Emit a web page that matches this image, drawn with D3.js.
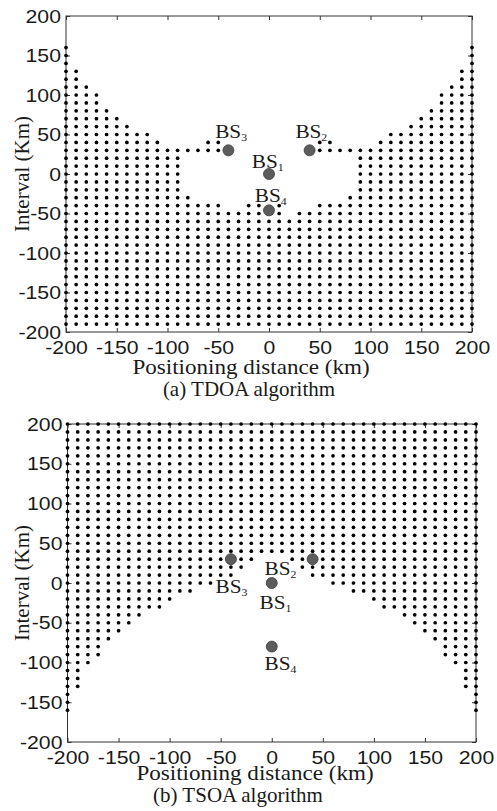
<!DOCTYPE html>
<html>
<head>
<meta charset="utf-8">
<script src="https://cdn.jsdelivr.net/npm/d3@7"></script>
<style>
	body { margin: 0; background: #fff; }
	svg { display: block; font-family: 'Liberation Serif', 'Times New Roman', serif; }
</style>
</head>
<body>
<svg id="chart" width="497" height="811"></svg>
<script>
// grid of candidate positions (km)
const gridX = [-200, -190, -180, -170, -160, -150, -140, -130, -120, -110, -100, -90, -80, -70, -60, -50, -40, -30, -20, -10, 0,
	10, 20, 30, 40, 50, 60, 70, 80, 90, 100, 110, 120, 130, 140, 150, 160, 170, 180, 190, 200]
const gridY = [-200, -190, -180, -170, -160, -150, -140, -130, -120, -110, -100, -90, -80, -70, -60, -50, -40, -30, -20, -10, 0,
	10, 20, 30, 40, 50, 60, 70, 80, 90, 100, 110, 120, 130, 140, 150, 160, 170, 180, 190, 200]
const ticks = [-200, -150, -100, -50, 0, 50, 100, 150, 200]

// (a) TDOA: highest dotted row of each column, lowest row, and empty pockets
const tdoaTop = [160, 130, 110, 100, 80, 70, 60, 50, 50, 40, 30, 30, 30, 30, 40, 40, 30, 30, 30, 30, 30,
	30, 30, 30, 30, 40, 40, 30, 30, 30, 30, 40, 50, 50, 60, 70, 80, 100, 110, 130, 160]
const tdoaBottom = -190
const tdoaHoleRow = [30, 20, 10, 0, -10, -20, -30, -40, -40, -40, -50]
const tdoaHoleFrom = [-40, -80, -80, -80, -80, -80, -70, -40, 0, 20, 20]
const tdoaHoleTo = [40, 80, 80, 80, 80, 80, 70, -30, 0, 40, 20]

// (b) TSOA: lowest dotted row of each column
const tsoaTop = 200
const tsoaBottom = [-160, -130, -100, -90, -70, -60, -50, -40, -30, -30, -20, -10, -10, 0, 0, 10, 10, 20, 30, 40, 40,
	40, 30, 20, 10, 10, 0, 0, -10, -10, -20, -30, -30, -40, -50, -60, -70, -90, -100, -130, -160]

// base stations BS1..BS4
const bsNames = ['1', '2', '3', '4']
const tdoaBsX = [0, 40, -40, 0]
const tdoaBsY = [0, 30, 30, -46]
const tdoaLabelX = [-17, 26, -53, -14]
const tdoaLabelY = [7, 45, 46, -35]
const tsoaBsX = [0, 40, -40, 0]
const tsoaBsY = [0, 30, 30, -80]
const tsoaLabelX = [-12, -7, -55, -7]
const tsoaLabelY = [-33, 10, -13, -110]

const svg = d3.select('#chart')
const INK = '#1a1a1a'

function buildDots(tops, bottoms, holeRow, holeFrom, holeTo) {
	const dots = []
	gridX.forEach((x, i) => {
		const hi = Array.isArray(tops) ? tops[i] : tops
		const lo = Array.isArray(bottoms) ? bottoms[i] : bottoms
		gridY.forEach(y => {
			if (y > hi || y < lo) return
			const inHole = holeRow.some((r, j) => r === y && x >= holeFrom[j] && x <= holeTo[j])
			if (!inHole) dots.push({ x, y })
		})
	})
	return dots
}

const panels = [
	{
		xRange: [66, 472], yRange: [332, 16],
		dots: buildDots(tdoaTop, tdoaBottom, tdoaHoleRow, tdoaHoleFrom, tdoaHoleTo),
		bsX: tdoaBsX, bsY: tdoaBsY, labelX: tdoaLabelX, labelY: tdoaLabelY,
		titleX: 251, titleY: 374, caption: '(a) TDOA algorithm', captionX: 249, captionY: 396
	},
	{
		xRange: [67.5, 476], yRange: [742, 424],
		dots: buildDots(tsoaTop, tsoaBottom, [], [], []),
		bsX: tsoaBsX, bsY: tsoaBsY, labelX: tsoaLabelX, labelY: tsoaLabelY,
		titleX: 255, titleY: 780, caption: '(b) TSOA algorithm', captionX: 238, captionY: 802
	}
]

// plain hyphen for negatives, as in the figure
const fmt = d => String(d)

function styleAxis(g) {
	g.select('.domain').remove()
	g.selectAll('line').attr('stroke', '#333')
}

function drawPanel(p) {
	const x = d3.scaleLinear().domain([-200, 200]).range(p.xRange)
	const y = d3.scaleLinear().domain([-200, 200]).range(p.yRange)
	const g = svg.append('g')

	// frame
	g.append('rect')
		.attr('x', p.xRange[0])
		.attr('y', p.yRange[1])
		.attr('width', p.xRange[1] - p.xRange[0])
		.attr('height', p.yRange[0] - p.yRange[1])
		.attr('fill', 'none')
		.attr('stroke', '#333')
		.attr('stroke-width', 1)

	const bottom = g.append('g')
		.attr('transform', `translate(0,${p.yRange[0]})`)
		.call(d3.axisBottom(x).tickValues(ticks).tickFormat(fmt).tickSize(-4))
		.call(styleAxis)
	bottom.selectAll('text')
		.attr('y', 22).attr('dy', null)
		.attr('transform', 'scale(1.18,1)')
		.style('font-size', '18px')
		.attr('fill', INK)

	const left = g.append('g')
		.attr('transform', `translate(${p.xRange[0]},0)`)
		.call(d3.axisLeft(y).tickValues(ticks).tickFormat(fmt).tickSize(-4))
		.call(styleAxis)
	left.selectAll('text')
		.attr('x', -4.3).attr('dy', '0.34em')
		.attr('transform', 'scale(1.18,1)')
		.style('font-size', '18px')
		.attr('fill', INK)

	g.append('g')
		.attr('transform', `translate(0,${p.yRange[1]})`)
		.call(d3.axisTop(x).tickValues(ticks).tickSize(-4).tickFormat(''))
		.call(styleAxis)

	g.append('g')
		.attr('transform', `translate(${p.xRange[1]},0)`)
		.call(d3.axisRight(y).tickValues(ticks).tickSize(-4).tickFormat(''))
		.call(styleAxis)

	// feasible positions
	g.append('g').attr('class', 'dots')
		.selectAll('circle')
		.data(p.dots)
		.enter().append('circle')
		.attr('cx', d => x(d.x))
		.attr('cy', d => y(d.y))
		.attr('r', 1.85)
		.attr('fill', '#000')

	// base stations
	g.append('g').selectAll('circle')
		.data(bsNames)
		.enter().append('circle')
		.attr('cx', (d, i) => x(p.bsX[i]))
		.attr('cy', (d, i) => y(p.bsY[i]))
		.attr('r', 5.5)
		.attr('fill', '#5c5c5c')
		.attr('stroke', '#3c3c3c')
		.attr('stroke-width', 0.8)

	const labels = g.append('g').selectAll('text')
		.data(bsNames)
		.enter().append('text')
		.attr('transform', (d, i) => `translate(${x(p.labelX[i])},${y(p.labelY[i])}) scale(1.18,1)`)
		.attr('fill', INK)
		.style('font-size', '18px')
	labels.append('tspan').text('BS')
	labels.append('tspan')
		.attr('dy', 3)
		.style('font-size', '10px')
		.text(d => d)

	// titles
	g.append('text')
		.attr('transform', `translate(${p.titleX},${p.titleY}) scale(1.1,1)`)
		.attr('text-anchor', 'middle')
		.attr('fill', INK)
		.style('font-size', '21px')
		.text('Positioning distance (km)')

	g.append('text')
		.attr('transform', `translate(29,${(p.yRange[0] + p.yRange[1]) / 2}) rotate(-90)`)
		.attr('text-anchor', 'middle')
		.attr('fill', INK)
		.style('font-size', '21px')
		.text('Interval (Km)')

	g.append('text')
		.attr('x', p.captionX)
		.attr('y', p.captionY)
		.attr('text-anchor', 'middle')
		.attr('fill', INK)
		.style('font-size', '21px')
		.text(p.caption)
}

panels.forEach(drawPanel)
</script>
</body>
</html>
